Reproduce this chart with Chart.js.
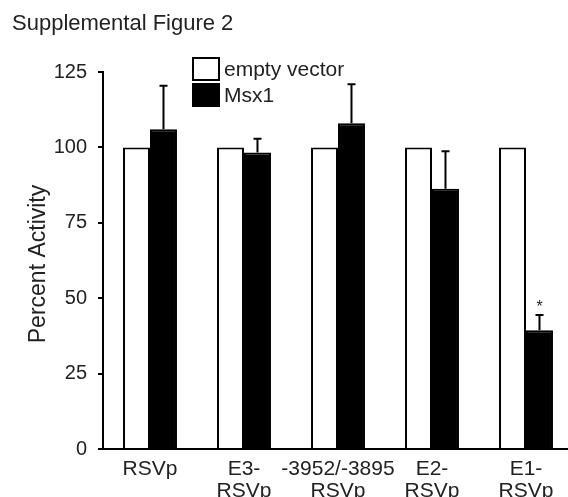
<!DOCTYPE html>
<html>
<head>
<meta charset="utf-8">
<script src="https://cdn.jsdelivr.net/npm/chart.js@4/dist/chart.umd.min.js"></script>
<style>
  html, body { margin: 0; padding: 0; background: #fff; overflow: hidden; }
  canvas { display: block; }
</style>
</head>
<body>
<canvas id="chart" width="580" height="497"></canvas>
<script>
const categories = [['RSVp'], ['E3-', 'RSVp'], ['-3952/-3895', 'RSVp'], ['E2-', 'RSVp'], ['E1-', 'RSVp']];
const emptyVector = [100, 100, 100, 100, 100];
const msx1 = [106, 98.3, 108, 86.3, 39.4];
const msx1Err = [14.4, 4.6, 12.9, 12.4, 5];
const significance = ['', '', '', '', '*'];
const yTicks = [0, 25, 50, 75, 100, 125];

const FONT = 'Liberation Sans, Arial, sans-serif';
const TEXT = '#222';

// error bars (upper only) + significance stars
const errorBars = {
  id: 'errorBars',
  afterDatasetsDraw(chart) {
    const { ctx } = chart;
    const y = chart.scales.y;
    const meta = chart.getDatasetMeta(1);
    ctx.save();
    ctx.strokeStyle = '#000';
    ctx.lineWidth = 2;
    meta.data.forEach((bar, i) => {
      const top = y.getPixelForValue(msx1[i] + msx1Err[i]);
      ctx.beginPath();
      ctx.moveTo(bar.x, bar.y);
      ctx.lineTo(bar.x, top);
      ctx.moveTo(bar.x - 4, top);
      ctx.lineTo(bar.x + 4, top);
      ctx.stroke();
      if (significance[i]) {
        ctx.fillStyle = TEXT;
        ctx.font = '16px ' + FONT;
        ctx.textAlign = 'center';
        ctx.textBaseline = 'middle';
        ctx.fillText(significance[i], bar.x, top - 7);
      }
    });
    ctx.restore();
  },
};

// title, y axis title and legend drawn by hand
const decorations = {
  id: 'decorations',
  afterDraw(chart) {
    const { ctx } = chart;
    ctx.save();
    ctx.fillStyle = TEXT;
    ctx.font = '22px ' + FONT;
    ctx.textBaseline = 'middle';
    ctx.textAlign = 'left';
    ctx.fillText('Supplemental Figure 2', 12, 24);

    ctx.save();
    ctx.translate(39, 264);
    ctx.rotate(-Math.PI / 2);
    ctx.textAlign = 'center';
    ctx.font = '23px ' + FONT;
    ctx.fillText('Percent Activity', 0, 0);
    ctx.restore();

    chart.data.datasets.forEach((ds, i) => {
      const bx = 193, by = 58 + i * 26;
      ctx.fillStyle = ds.backgroundColor;
      ctx.fillRect(bx, by, 26, 22);
      ctx.strokeStyle = '#000';
      ctx.lineWidth = 2;
      ctx.strokeRect(bx, by, 26, 22);
      ctx.fillStyle = TEXT;
      ctx.font = '21px ' + FONT;
      ctx.fillText(ds.label, bx + 31, by + 12);
    });
    ctx.restore();
  },
};

new Chart(document.getElementById('chart'), {
  type: 'bar',
  data: {
    labels: categories,
    datasets: [
      {
        label: 'empty vector',
        data: emptyVector,
        backgroundColor: '#ffffff',
        borderColor: '#000',
        borderWidth: 2,
        borderSkipped: 'bottom',
      },
      {
        label: 'Msx1',
        data: msx1,
        backgroundColor: '#000000',
        borderColor: '#000',
        borderWidth: 2,
        borderSkipped: 'bottom',
      },
    ],
  },
  options: {
    responsive: false,
    animation: false,
    categoryPercentage: 0.574,
    barPercentage: 1,
    layout: { padding: { top: 72, right: 7, left: 0, bottom: 0 } },
    plugins: {
      legend: { display: false },
      tooltip: { enabled: false },
    },
    scales: {
      x: {
        grid: { display: false },
        border: { display: true, color: '#000', width: 2 },
        ticks: {
          color: TEXT,
          font: { family: FONT, size: 21, lineHeight: 1.05 },
          padding: 1,
          maxRotation: 0,
          autoSkip: false,
        },
        afterFit(scale) { scale.height = 48; },
      },
      y: {
        min: 0,
        max: 125,
        afterBuildTicks(scale) { scale.ticks = yTicks.map(v => ({ value: v })); },
        grid: { drawOnChartArea: false, drawTicks: true, tickLength: 5, color: '#000', lineWidth: 2 },
        border: { display: true, color: '#000', width: 2 },
        ticks: {
          color: TEXT,
          font: { family: FONT, size: 20 },
          padding: 11,
        },
        afterFit(scale) { scale.width = 103; },
      },
    },
  },
  plugins: [errorBars, decorations],
});
</script>
</body>
</html>
